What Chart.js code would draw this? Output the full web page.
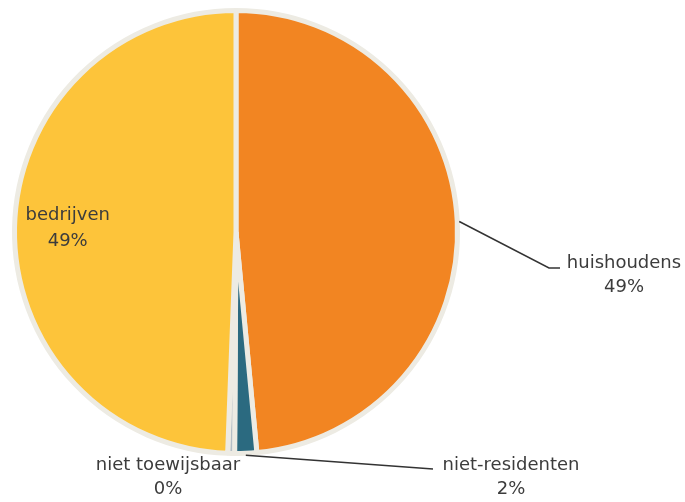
<!DOCTYPE html>
<html>
<head>
<meta charset="utf-8">
<script src="https://cdn.jsdelivr.net/npm/chart.js@4"></script>
<style>
html,body{margin:0;padding:0;background:#fff;}
#wrap{width:685px;height:502px;}
</style>
</head>
<body>
<div id="wrap"><canvas id="c" width="685" height="502"></canvas></div>
<script>
const categories = ["huishoudens", "niet-residenten", "niet toewijsbaar", "bedrijven"];
const values = [48.5, 1.6, 0.5, 49.4];
const percentLabels = ["49%", "2%", "0%", "49%"];
const colors = ["#f28522", "#2b6a80", "#b4bec6", "#fdc43a"];

const labelPlugin = {
  id: 'sliceLabels',
  afterDatasetsDraw(chart) {
    const ctx = chart.ctx;
    const meta = chart.getDatasetMeta(0);
    ctx.save();
    ctx.font = '18px "DejaVu Sans", sans-serif';
    ctx.fillStyle = '#3c3c3c';
    ctx.textAlign = 'center';
    ctx.textBaseline = 'middle';
    ctx.strokeStyle = '#333';
    ctx.lineWidth = 1.5;
    meta.data.forEach((arc, i) => {
      const p = arc.getProps(['x','y','startAngle','endAngle','outerRadius'], true);
      const mid = (p.startAngle + p.endAngle) / 2;
      const ex = p.x + Math.cos(mid) * (p.outerRadius + 2);
      const ey = p.y + Math.sin(mid) * (p.outerRadius + 2);
      const name = categories[i], pct = percentLabels[i];
      if (i === 0) {
        ctx.beginPath(); ctx.moveTo(ex, ey); ctx.lineTo(549, 268); ctx.lineTo(560, 268); ctx.stroke();
        ctx.fillText(name, 624, 263); ctx.fillText(pct, 624, 287);
      } else if (i === 1) {
        ctx.beginPath(); ctx.moveTo(ex, ey); ctx.lineTo(433, 469); ctx.stroke();
        ctx.fillText(name, 511, 465); ctx.fillText(pct, 511, 489);
      } else if (i === 2) {
        ctx.fillText(name, 168, 465); ctx.fillText(pct, 168, 489);
      } else {
        const r = p.outerRadius * 0.76;
        const tx = p.x + Math.cos(mid) * r, ty = p.y + Math.sin(mid) * r;
        ctx.fillText(name, tx, ty - 13); ctx.fillText(pct, tx, ty + 13);
      }
    });
    ctx.restore();
  }
};

new Chart(document.getElementById('c'), {
  type: 'pie',
  data: {
    labels: categories,
    datasets: [{
      data: values,
      backgroundColor: colors,
      borderColor: '#edebe3',
      borderWidth: 5,
    }]
  },
  options: {
    responsive: false,
    animation: false,
    events: [],
    layout: { padding: { left: 12, right: 225, top: 8, bottom: 46 } },
    plugins: { legend: { display: false }, tooltip: { enabled: false } }
  },
  plugins: [labelPlugin]
});
</script>
</body>
</html>
